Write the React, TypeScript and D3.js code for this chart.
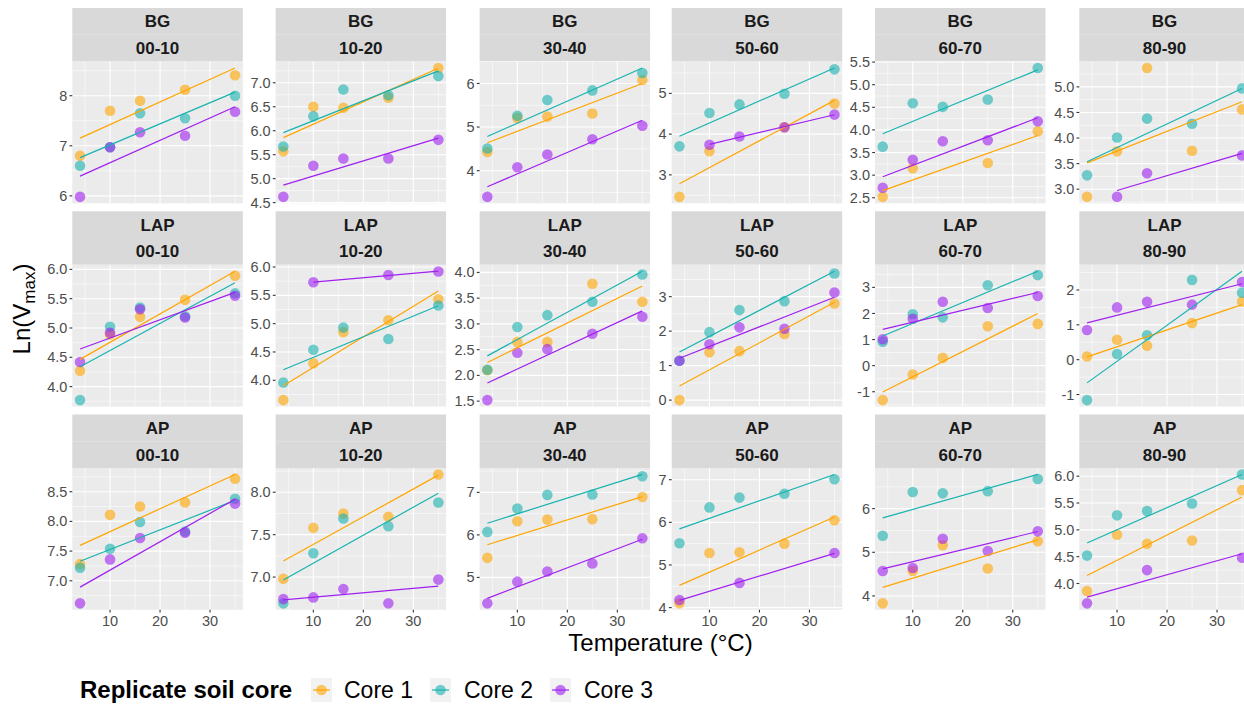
import React from "react";
import * as d3 from "d3";

// measurement temperatures (°C)
const temps = [4, 10, 16, 25, 35];
const enzymes = ["BG", "LAP", "AP"];
const depths = ["00-10", "10-20", "30-40", "50-60", "60-70", "80-90"];
const cores = ["Core 1", "Core 2", "Core 3"];
const coreColors = ["#FFA500", "#17B3B0", "#A020F0"];

// Ln(Vmax) per depth (rows) x temperature (columns); null = no value
const bgCore1 = [
  [6.8, 7.7, 7.9, 8.12, 8.41],
  [5.57, 6.5, 6.48, 6.69, 7.31],
  [4.43, 5.21, 5.24, 5.31, 6.08],
  [2.46, 3.58, null, 4.17, 4.75],
  [2.52, 3.15, null, 3.27, 3.97],
  [2.85, 3.74, 5.37, 3.75, 4.56],
];
const bgCore2 = [
  [6.6, 6.97, 7.65, 7.55, 8.0],
  [5.67, 6.3, 6.86, 6.74, 7.14],
  [4.51, 5.26, 5.62, 5.84, 6.24],
  [3.7, 4.52, 4.73, 4.99, 5.59],
  [3.63, 4.59, 4.51, 4.67, 5.37],
  [3.27, 4.01, 4.38, 4.28, 4.97],
];
const bgCore3 = [
  [5.98, 6.97, 7.27, 7.2, 7.68],
  [4.62, 5.27, 5.42, 5.42, 5.81],
  [3.4, 4.08, 4.37, 4.72, 5.03],
  [null, 3.74, 3.94, 4.17, 4.48],
  [2.72, 3.34, 3.75, 3.77, 4.19],
  [null, 2.85, 3.31, null, 3.66],
];
const lapCore1 = [
  [4.27, 4.89, 5.19, 5.48, 5.89],
  [3.65, 4.3, 4.85, 5.06, 5.43],
  [2.1, 2.65, 2.65, 3.78, 3.43],
  [0.0, 1.39, 1.42, 1.92, 2.8],
  [-1.32, -0.34, 0.3, 1.51, 1.6],
  [0.09, 0.57, 0.4, 1.05, 1.67],
];
const lapCore2 = [
  [3.77, 5.02, 5.35, 5.2, 5.59],
  [3.96, 4.54, 4.93, 4.73, 5.32],
  [2.11, 2.94, 3.17, 3.43, 3.96],
  [1.14, 1.97, 2.61, 2.87, 3.67],
  [0.92, 1.97, 1.85, 3.08, 3.47],
  [-1.16, 0.16, 0.7, 2.29, 1.92],
];
const lapCore3 = [
  [4.42, 4.92, 5.32, 5.18, 5.55],
  [null, 5.73, null, 5.86, 5.92],
  [1.52, 2.44, 2.51, 2.81, 3.14],
  [1.14, 1.62, 2.11, 2.07, 3.12],
  [1.01, 1.8, 2.45, 2.21, 2.67],
  [0.85, 1.5, 1.66, 1.58, 2.23],
];
const apCore1 = [
  [7.28, 8.11, 8.25, 8.32, 8.72],
  [6.98, 7.58, 7.75, 7.71, 8.21],
  [5.46, 6.32, 6.36, 6.37, 6.89],
  [4.1, 5.28, 5.3, 5.5, 6.05],
  [3.83, 4.57, 5.16, 4.63, 5.25],
  [3.86, 4.91, 4.74, 4.8, 5.74],
];
const apCore2 = [
  [7.22, 7.54, 7.99, 7.83, 8.38],
  [6.69, 7.28, 7.69, 7.6, 7.88],
  [6.07, 6.62, 6.94, 6.95, 7.38],
  [5.51, 6.35, 6.58, 6.67, 7.01],
  [5.38, 6.38, 6.35, 6.4, 6.68],
  [4.52, 5.27, 5.35, 5.49, 6.03],
];
const apCore3 = [
  [6.62, 7.36, 7.72, 7.81, 8.3],
  [6.74, 6.76, 6.86, 6.69, 6.97],
  [4.39, 4.9, 5.14, 5.33, 5.92],
  [4.18, null, 4.58, null, 5.28],
  [4.57, 4.64, 5.31, 5.03, 5.48],
  [3.63, null, 4.25, null, 4.48],
];

// y tick labels per panel
const bgTicks = [[6, 7, 8], [4.5, 5, 5.5, 6, 6.5, 7], [4, 5, 6], [3, 4, 5], [2.5, 3, 3.5, 4, 4.5, 5, 5.5], [3, 3.5, 4, 4.5, 5]];
const lapTicks = [[4, 4.5, 5, 5.5, 6], [4, 4.5, 5, 5.5, 6], [1.5, 2, 2.5, 3, 3.5, 4], [0, 1, 2, 3], [-1, 0, 1, 2, 3], [-1, 0, 1, 2]];
const apTicks = [[7, 7.5, 8, 8.5], [7, 7.5, 8], [5, 6, 7], [4, 5, 6, 7], [4, 5, 6], [4, 4.5, 5, 5.5, 6]];
const xTicks = [10, 20, 30];

const coreData = [
  [bgCore1, bgCore2, bgCore3],
  [lapCore1, lapCore2, lapCore3],
  [apCore1, apCore2, apCore3],
];
const tickData = [bgTicks, lapTicks, apTicks];

// layout
const W = 1244;
const H = 708;
const panelLeft = [72.3, 275.6, 479.6, 671.7, 875, 1079.3];
const panelW = 170.5;
const stripH = 53.5;
const plotH = 141.8;
const rowTop = (r: number) => 8 + r * 203.25;
const font = "'Liberation Sans', Arial, sans-serif";

type Pt = { x: number; y: number };

function fit(pts: Pt[]) {
  const mx = d3.mean(pts, (d) => d.x)!;
  const my = d3.mean(pts, (d) => d.y)!;
  const sxy = d3.sum(pts, (d) => (d.x - mx) * (d.y - my));
  const sxx = d3.sum(pts, (d) => (d.x - mx) ** 2);
  const b = sxy / sxx;
  const a = my - b * mx;
  const [x0, x1] = d3.extent(pts, (d) => d.x) as [number, number];
  return [
    { x: x0, y: a + b * x0 },
    { x: x1, y: a + b * x1 },
  ];
}

const fmt = (ticks: number[]) =>
  ticks.some((t) => !Number.isInteger(t)) ? (t: number) => t.toFixed(1) : (t: number) => String(t);

function Panel({ r, c }: { r: number; c: number }) {
  const left = panelLeft[c];
  const top = rowTop(r) + stripH;
  const series = coreData[r].map((core) =>
    temps
      .map((t, i) => ({ x: t, y: core[c][i] as number | null }))
      .filter((d) => d.y !== null) as Pt[]
  );
  const fits = series.map(fit);
  const allY = [...series.flat().map((d) => d.y), ...fits.flat().map((d) => d.y)];
  const [lo, hi] = d3.extent(allY) as [number, number];
  const pad = (hi - lo) * 0.05;
  const x = d3.scaleLinear().domain([2.45, 36.55]).range([left, left + panelW]);
  const y = d3.scaleLinear().domain([lo - pad, hi + pad]).range([top + plotH, top]);
  const ticks = tickData[r][c];
  const step = ticks[1] - ticks[0];
  const minor = [ticks[0] - step / 2, ...ticks.map((t) => t + step / 2)].filter(
    (t) => t > lo - pad && t < hi + pad
  );
  const xMinor = [5, 15, 25, 35];
  const f = fmt(ticks);
  const line = d3
    .line<Pt>()
    .x((d) => x(d.x))
    .y((d) => y(d.y));
  const clipId = `clip-${r}-${c}`;
  const st = rowTop(r);
  return (
    <g>
      <rect x={left} y={st} width={panelW} height={stripH / 2} fill="#D9D9D9" />
      <rect x={left} y={st + stripH / 2} width={panelW} height={stripH / 2} fill="#D9D9D9" />
      <text x={left + panelW / 2} y={st + stripH / 4} dy="0.36em" textAnchor="middle" fontSize={17} fontWeight="bold" fill="#1A1A1A">
        {enzymes[r]}
      </text>
      <text x={left + panelW / 2} y={st + (3 * stripH) / 4} dy="0.36em" textAnchor="middle" fontSize={17} fontWeight="bold" fill="#1A1A1A">
        {depths[c]}
      </text>
      <defs>
        <clipPath id={clipId}>
          <rect x={left} y={top} width={panelW} height={plotH} />
        </clipPath>
      </defs>
      <rect x={left} y={top} width={panelW} height={plotH} fill="#EBEBEB" />
      {minor.map((t) => (
        <line key={"ym" + t} x1={left} x2={left + panelW} y1={y(t)} y2={y(t)} stroke="#fff" strokeWidth={0.55} />
      ))}
      {xMinor.map((t) => (
        <line key={"xm" + t} x1={x(t)} x2={x(t)} y1={top} y2={top + plotH} stroke="#fff" strokeWidth={0.55} />
      ))}
      {ticks.map((t) => (
        <line key={"y" + t} x1={left} x2={left + panelW} y1={y(t)} y2={y(t)} stroke="#fff" strokeWidth={1.1} />
      ))}
      {xTicks.map((t) => (
        <line key={"x" + t} x1={x(t)} x2={x(t)} y1={top} y2={top + plotH} stroke="#fff" strokeWidth={1.1} />
      ))}
      {ticks.map((t) => (
        <g key={"yt" + t}>
          <line x1={left - 2.8} x2={left} y1={y(t)} y2={y(t)} stroke="#333" strokeWidth={1.1} />
          <text x={left - 5} y={y(t)} dy="0.35em" textAnchor="end" fontSize={14.5} fill="#4D4D4D">
            {f(t).replace("-", "-")}
          </text>
        </g>
      ))}
      {r === 2 &&
        xTicks.map((t) => (
          <g key={"xt" + t}>
            <line x1={x(t)} x2={x(t)} y1={top + plotH} y2={top + plotH + 2.8} stroke="#333" strokeWidth={1.1} />
            <text x={x(t)} y={top + plotH + 16} textAnchor="middle" fontSize={14.5} fill="#4D4D4D">
              {t}
            </text>
          </g>
        ))}
      <g clipPath={`url(#${clipId})`}>
        {series.map((s, k) =>
          s.map((d, i) => (
            <circle key={`p${k}-${i}`} cx={x(d.x)} cy={y(d.y)} r={5.3} fill={coreColors[k]} fillOpacity={0.6} />
          ))
        )}
        {fits.map((fl, k) => (
          <path key={"f" + k} d={line(fl)!} fill="none" stroke={coreColors[k]} strokeWidth={1.2} />
        ))}
      </g>
    </g>
  );
}

const legendKeyX = [311, 430, 550];
const legendTextX = [344, 464, 584];

export default function App() {
  const legendY = 690;
  return (
    <svg width={W} height={H} style={{ position: "absolute", left: 0, top: 0, background: "#fff" }} fontFamily={font}>
      {enzymes.map((_, r) => depths.map((_, c) => <Panel key={`${r}-${c}`} r={r} c={c} />))}
      <text x={660.5} y={651} textAnchor="middle" fontSize={24} fill="#000">
        Temperature (°C)
      </text>
      <text transform={`translate(30,309) rotate(-90)`} textAnchor="middle" fontSize={24} fill="#000">
        Ln(V<tspan fontSize={17} dy={5}>max</tspan>
        <tspan dy={-5}>)</tspan>
      </text>
      <text x={80} y={legendY} dy="0.35em" fontSize={24} fontWeight="bold" fill="#000">
        Replicate soil core
      </text>
      {cores.map((name, k) => (
        <g key={name}>
          <rect x={legendKeyX[k]} y={legendY - 12} width={21} height={24} fill="#F2F2F2" />
          <line x1={legendKeyX[k] + 2} x2={legendKeyX[k] + 19} y1={legendY} y2={legendY} stroke={coreColors[k]} strokeWidth={1.2} />
          <circle cx={legendKeyX[k] + 10.5} cy={legendY} r={5.3} fill={coreColors[k]} fillOpacity={0.6} />
          <text x={legendTextX[k]} y={legendY} dy="0.35em" fontSize={23} fill="#000">
            {name}
          </text>
        </g>
      ))}
    </svg>
  );
}
